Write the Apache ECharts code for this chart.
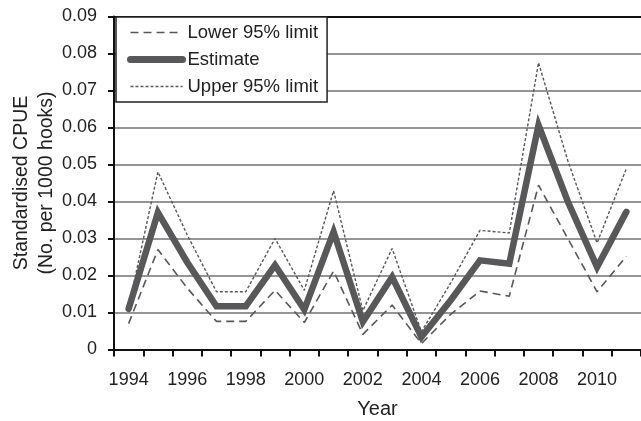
<!DOCTYPE html>
<html>
<head>
<meta charset="utf-8">
<script src="https://cdn.jsdelivr.net/npm/echarts@6/dist/echarts.min.js"></script>
<style>
html,body{margin:0;padding:0;background:#fff;}
#chart{width:641px;height:421px;}
</style>
</head>
<body>
<div id="chart"></div>
<script>
const years = ['1994','1995','1996','1997','1998','1999','2000','2001','2002','2003','2004','2005','2006','2007','2008','2009','2010','2011'];
const lower = [0.0070, 0.0270, 0.0166, 0.0076, 0.0076, 0.0160, 0.0073, 0.0212, 0.0041, 0.0120, 0.0016, 0.0095, 0.0158, 0.0144, 0.0444, 0.0300, 0.0156, 0.0252];
const estimate = [0.0110, 0.0370, 0.0236, 0.0117, 0.0117, 0.0228, 0.0108, 0.0318, 0.0075, 0.0196, 0.0034, 0.0133, 0.0241, 0.0232, 0.0606, 0.0400, 0.0223, 0.0372];
const upper = [0.0115, 0.0480, 0.0310, 0.0156, 0.0156, 0.0300, 0.0160, 0.0429, 0.0105, 0.0273, 0.0048, 0.0180, 0.0322, 0.0315, 0.0775, 0.0510, 0.0288, 0.0489];
const seriesNames = ['Lower 95% limit', 'Estimate', 'Upper 95% limit'];
const yTicks = ['0','0.01','0.02','0.03','0.04','0.05','0.06','0.07','0.08','0.09'];

const FONT = 'Liberation Sans, Arial, Helvetica, sans-serif';
const LINE = '#58585a';
const chart = echarts.init(document.getElementById('chart'), null, {renderer: 'canvas'});
chart.setOption({
  animation: false,
  backgroundColor: '#fff',
  textStyle: {fontFamily: FONT},
  grid: {left: 114, right: 0, top: 16.5, bottom: 71.5, containLabel: false, outerBoundsMode: 'none'},
  legend: {
    orient: 'vertical',
    left: 116, top: 17,
    backgroundColor: '#fff',
    borderColor: '#222', borderWidth: 1.5, borderRadius: 0,
    padding: [6, 9, 6, 11],
    itemWidth: 52, itemHeight: 20, itemGap: 8,
    itemStyle: {opacity: 0},
    textStyle: {fontFamily: FONT, fontSize: 18.5, color: '#222'},
    data: [
      {name: seriesNames[0], itemStyle: {opacity: 0}, lineStyle: {color: LINE, width: 1.6, type: [8, 5], opacity: 1}},
      {name: seriesNames[1], itemStyle: {opacity: 0}, lineStyle: {color: LINE, width: 7, type: 'solid', cap: 'round', opacity: 1}},
      {name: seriesNames[2], itemStyle: {opacity: 0}, lineStyle: {color: LINE, width: 1.4, type: [3, 2], opacity: 1}}
    ]
  },
  xAxis: [{
    type: 'category', data: years, boundaryGap: true,
    axisLine: {lineStyle: {color: '#111', width: 2}},
    axisTick: {show: true, interval: 0, length: 7, alignWithLabel: false, lineStyle: {color: '#111', width: 2}},
    axisLabel: {interval: 1, margin: 22, fontSize: 18, color: '#222', fontFamily: FONT},
    splitLine: {show: false},
    name: 'Year', nameLocation: 'middle', nameGap: 50, nameMoveOverlap: false,
    nameTextStyle: {fontSize: 20, color: '#222', fontFamily: FONT}
  }, {
    type: 'category', data: years, position: 'top',
    axisLine: {show: true, lineStyle: {color: '#111', width: 2}},
    axisTick: {show: false}, axisLabel: {show: false}, splitLine: {show: false}
  }],
  yAxis: {
    type: 'value', min: 0, max: 0.09, interval: 0.01,
    axisLine: {show: true, lineStyle: {color: '#111', width: 2}},
    axisTick: {show: true, length: 6, lineStyle: {color: '#111', width: 2}},
    axisLabel: {margin: 17, fontSize: 18, color: '#222', fontFamily: FONT,
      formatter: function (v) { return yTicks[Math.round(v * 100)]; }},
    splitLine: {show: true, lineStyle: {color: '#959595', width: 2}},
    name: 'Standardised CPUE\n(No. per 1000 hooks)', nameLocation: 'middle', nameGap: 55, nameRotate: 90,
    nameMoveOverlap: false,
    nameTextStyle: {fontSize: 19.5, color: '#222', fontFamily: FONT, lineHeight: 25, align: 'center'}
  },
  series: [
    {name: seriesNames[0], type: 'line', data: lower, symbol: 'none', z: 3,
     lineStyle: {color: LINE, width: 1.6, type: [8, 5]}, itemStyle: {color: LINE}},
    {name: seriesNames[1], type: 'line', data: estimate, symbol: 'none', z: 4,
     lineStyle: {color: LINE, width: 6.5, type: 'solid', cap: 'round', join: 'miter'}, itemStyle: {color: LINE}},
    {name: seriesNames[2], type: 'line', data: upper, symbol: 'none', z: 3,
     lineStyle: {color: LINE, width: 1.4, type: [3, 2]}, itemStyle: {color: LINE}}
  ]
});
</script>
</body>
</html>
